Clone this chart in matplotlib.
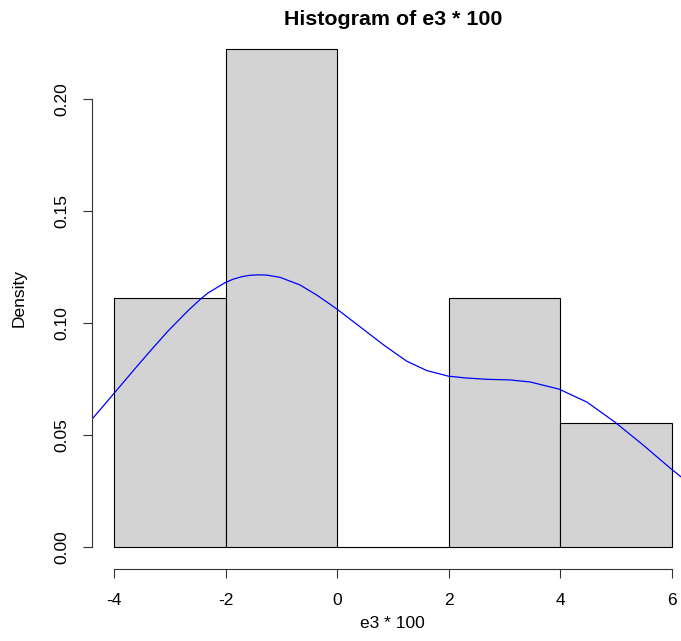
import matplotlib
matplotlib.use("Agg")
import matplotlib.pyplot as plt
import numpy as np

plt.rcParams['font.family'] = ['Liberation Sans', 'DejaVu Sans']

# Histogram data
bin_edges = [-4, -2, 0, 2, 4, 6]
densities = [0.1111, 0.2222, 0.0, 0.1111, 0.0556]

# Kernel density curve
kde_x = [-4.413, -4.005, -3.575, -3.32, -3.037, -2.678, -2.439, -2.319, -2.014, -1.865,
         -1.71, -1.565, -1.42, -1.266, -1.027, -0.669, -0.369, -0.124, 0.0, 0.468,
         0.827, 1.245, 1.605, 1.992, 2.30, 2.664, 3.10, 3.46, 3.98, 4.48,
         4.98, 5.49, 5.97, 6.17]
kde_y = [0.0567, 0.0686, 0.0812, 0.0885, 0.0964, 0.1055, 0.1110, 0.1134, 0.1180, 0.1196,
         0.1207, 0.1213, 0.1215, 0.1214, 0.1204, 0.1170, 0.1125, 0.1083, 0.1061, 0.0972,
         0.0903, 0.0830, 0.0788, 0.0763, 0.0755, 0.0749, 0.0746, 0.0737, 0.0705, 0.0647,
         0.0558, 0.0455, 0.0353, 0.0313]

x_ticks = [-4, -2, 0, 2, 4, 6]
y_ticks = [0.00, 0.05, 0.10, 0.15, 0.20]
y_ticklabels = ["0.00", "0.05", "0.10", "0.15", "0.20"]

W, H = 681, 641
fig = plt.figure(figsize=(W / 100, H / 100), dpi=100)
left, right, top, bottom = 92, 694, 29.3, 567
ax = fig.add_axes([left / W, 1 - bottom / H, (right - left) / W, (bottom - top) / H])

widths = np.diff(bin_edges)
ax.bar(bin_edges[:-1], densities, width=widths, align='edge',
       color='#D3D3D3', edgecolor='black', linewidth=0.8)
ax.plot(kde_x, kde_y, color='blue', linewidth=0.9, solid_joinstyle='round')

ax.set_xlim(-4.4, 6.4)
ax.set_ylim(-0.00889, 0.2311)

for s in ['top', 'right']:
    ax.spines[s].set_visible(False)
ax.spines['left'].set_bounds(0, 0.2)
ax.spines['bottom'].set_bounds(-4, 6)
for s in ['left', 'bottom']:
    ax.spines[s].set_linewidth(0.8)
    ax.spines[s].set_color('#333333')
ax.spines['bottom'].set_position(('outward', 1.5))

ax.set_xticks(x_ticks)
ax.set_xticklabels([str(t) for t in x_ticks])
ax.set_yticks(y_ticks)
ax.set_yticklabels(y_ticklabels, rotation=90, va='center')
ax.tick_params(axis='x', length=6.5, width=0.8, pad=11, labelsize=12.5, color='#333333')
ax.tick_params(axis='y', length=6.5, width=0.8, pad=10, labelsize=12.5, color='#333333')

ax.set_title("Histogram of e3 * 100", fontsize=15.4, fontweight='bold', pad=2)
fig.text(392 / W, 1 - 623 / H, "e3 * 100", ha='center', va='center', fontsize=12.5)
fig.text(19 / W, 1 - 298 / H, "Density", ha='center', va='center', rotation=90, fontsize=12.5)

fig.savefig("out.png", dpi=100)
